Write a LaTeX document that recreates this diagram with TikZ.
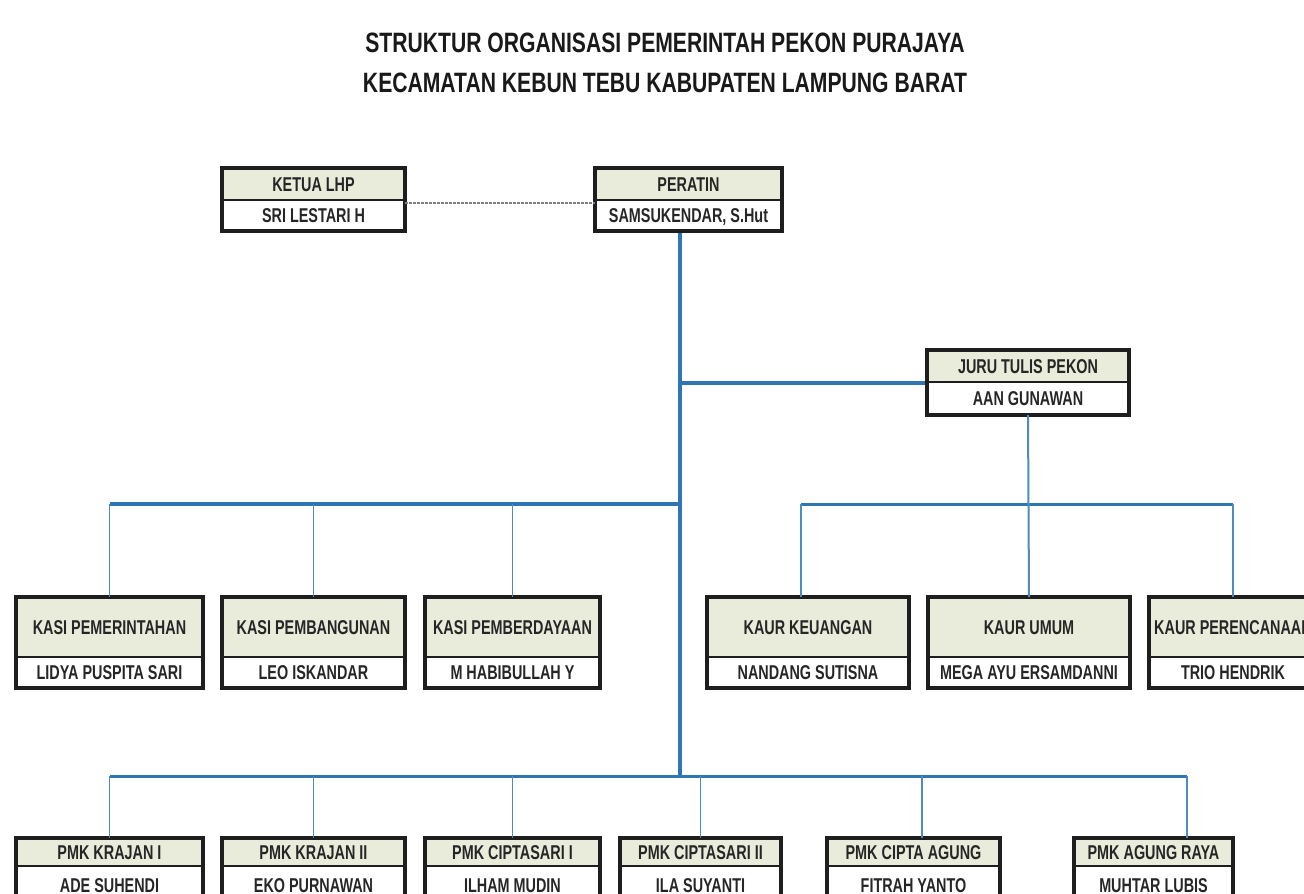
\documentclass[tikz,border=0pt]{standalone}
\usepackage{fontspec}
\newfontfamily\orgfont[FakeStretch=0.72]{Liberation Sans}
\newfontfamily\ttlfont[FakeStretch=0.755]{Liberation Sans}
\definecolor{hdrfill}{HTML}{E9ECDA}
\definecolor{lineblue}{HTML}{2F76B4}
\definecolor{framec}{HTML}{1E1E1E}
% #1 name, #2 x1, #3 x2, #4 ytop, #5 ydiv, #6 ybot, #7 header, #8 person
\newcommand{\orgbox}[8]{%
  \pgfmathsetmacro{\obw}{#3-#2}%
  \pgfmathsetmacro{\obh}{#5-#4}%
  \pgfmathsetmacro{\obn}{#6-#5}%
  \node[hdrbox, minimum width=\obw pt, minimum height=\obh pt, anchor=north west] (#1) at (#2,#4) {#7};
  \node[namebox, minimum width=\obw pt, minimum height=\obn pt, anchor=north west] (#1-n) at (#2,#5) {#8};
  \draw[frame] (#1.north west) rectangle (#1-n.south east);
}
\begin{document}
\begin{tikzpicture}[x=1pt,y=-1pt,
  hdrbox/.style={draw=framec, line width=1.5pt, fill=hdrfill, inner sep=0pt, outer sep=0pt,
    font=\orgfont\bfseries\fontsize{20}{20}\selectfont, text=black!85, text height=14.3pt, text depth=0pt},
  namebox/.style={hdrbox, fill=white},
  frame/.style={draw=framec, line width=3.2pt},
  trunk/.style={draw=lineblue, line width=4pt},
  bus/.style={draw=lineblue, line width=3pt},
  drop/.style={draw=lineblue!85, line width=1.4pt},
  dotline/.style={draw=gray, line width=1.8pt, dash pattern=on 3pt off 1pt},
  title/.style={font=\ttlfont\bfseries\fontsize{28}{28}\selectfont, text=black!90, inner sep=0pt, text height=20pt, text depth=0pt}]
\useasboundingbox (0,0) rectangle (1304,894);
\fill[white] (0,0) rectangle (1304,894);

% title
\node[title] (t1) at (665,42) {STRUKTUR ORGANISASI PEMERINTAH PEKON PURAJAYA};
\node[title] (t2) at (665,82) {KECAMATAN KEBUN TEBU KABUPATEN LAMPUNG BARAT};

% junction coordinates
\coordinate (tA) at (680,383);
\coordinate (tB) at (680,504);
\coordinate (tC) at (680,776);
\coordinate (k1) at (801,504);
\coordinate (d5) at (922,776);
\coordinate (d6) at (1187,776);

% connectors (drawn first, boxes on top)
\draw[trunk] (tA |- 0,230) -- (tC);
\draw[trunk] (tA) -- (928,383);
\draw[trunk] (tB) -- (110,504);
\draw[bus] (k1) -- (1233,504);
\draw[bus] (110,776) -- (d6);

% boxes
\orgbox{ketua}{222}{405}{168}{200}{231}{KETUA LHP}{SRI LESTARI H}
\orgbox{peratin}{595}{782}{168}{200}{231}{PERATIN}{SAMSUKENDAR, S.Hut}
\orgbox{juru}{927}{1129}{350}{382}{415}{JURU TULIS PEKON}{AAN GUNAWAN}

\orgbox{kasi1}{16}{203}{597}{657}{688}{KASI PEMERINTAHAN}{LIDYA PUSPITA SARI}
\orgbox{kasi2}{222}{405}{597}{657}{688}{KASI PEMBANGUNAN}{LEO ISKANDAR}
\orgbox{kasi3}{425}{600}{597}{657}{688}{KASI PEMBERDAYAAN}{M HABIBULLAH Y}
\orgbox{kaur1}{707}{909}{597}{657}{688}{KAUR KEUANGAN}{NANDANG SUTISNA}
\orgbox{kaur2}{928}{1130}{597}{657}{688}{KAUR UMUM}{MEGA AYU ERSAMDANNI}
\orgbox{kaur3}{1149}{1317}{597}{657}{688}{KAUR PERENCANAAN}{TRIO HENDRIK}

\orgbox{pmk1}{16}{203}{838}{866}{904}{PMK KRAJAN I}{ADE SUHENDI}
\orgbox{pmk2}{222}{405}{838}{866}{904}{PMK KRAJAN II}{EKO PURNAWAN}
\orgbox{pmk3}{425}{600}{838}{866}{904}{PMK CIPTASARI I}{ILHAM MUDIN}
\orgbox{pmk4}{620}{781}{838}{866}{904}{PMK CIPTASARI II}{ILA SUYANTI}
\orgbox{pmk5}{827}{1000}{838}{866}{904}{PMK CIPTA AGUNG}{FITRAH YANTO}
\orgbox{pmk6}{1074}{1233}{838}{866}{904}{PMK AGUNG RAYA}{MUHTAR LUBIS}

% dotted link
\draw[dotline] ([yshift=-3pt]ketua-n.north east) -- ([yshift=-3pt]peratin-n.north west);

% drops
\draw[drop] (kasi1.north |- tB) -- (kasi1.north);
\draw[drop] (kasi2.north |- tB) -- (kasi2.north);
\draw[drop] (kasi3.north |- tB) -- (kasi3.north);
\draw[drop] (k1) -- (k1 |- kaur1.north);
\draw[drop, line width=2pt] (juru-n.south) -- (kaur2.north);
\draw[drop] (kaur3.north |- k1) -- (kaur3.north);
\draw[drop] (pmk1.north |- tC) -- (pmk1.north);
\draw[drop] (pmk2.north |- tC) -- (pmk2.north);
\draw[drop] (pmk3.north |- tC) -- (pmk3.north);
\draw[drop] (pmk4.north |- tC) -- (pmk4.north);
\draw[drop] (d5) -- (d5 |- pmk5.north);
\draw[drop] (d6) -- (d6 |- pmk6.north);
\end{tikzpicture}
\end{document}
